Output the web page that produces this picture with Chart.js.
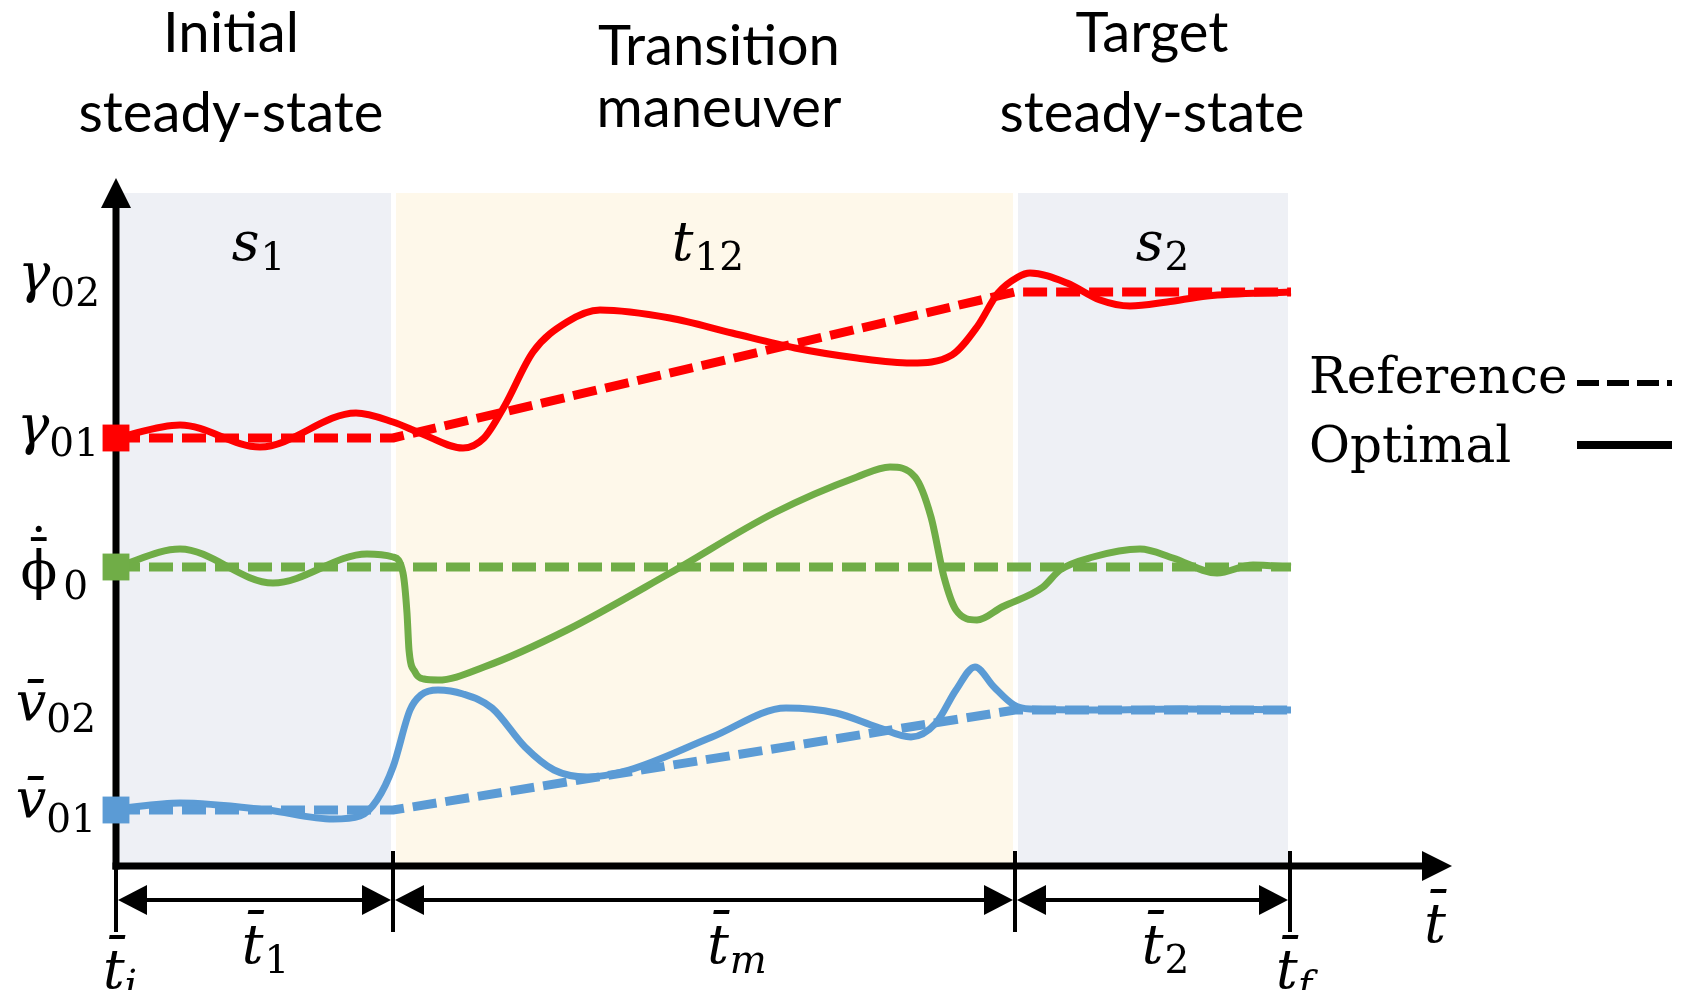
<!DOCTYPE html>
<html>
<head>
<meta charset="utf-8">
<script src="https://cdn.jsdelivr.net/npm/chart.js@4.4.1/dist/chart.umd.min.js"></script>
<style>
  html, body { margin: 0; padding: 0; background: #ffffff; }
  #wrap { width: 1683px; height: 990px; position: relative; }
</style>
</head>
<body>
<div id="wrap"><canvas id="c" width="1683" height="990"></canvas></div>
<script>
// ---- phases on the normalised time axis t̄ ----
const phaseBounds  = [0, 2.77, 8.99, 11.74];
const phaseSymbols = [['s', '1'], ['t', '12'], ['s', '2']];
const phaseTitles  = [['Initial', 'steady-state'], ['Transition', 'maneuver'], ['Target', 'steady-state']];

// ---- characteristic levels on the vertical axis ----
const levelValues  = [57.4, 42.8, 29.9, 15.6, 5.6];
const levelSymbols = [['γ', '02'], ['γ', '01'], ['ϕ', '0'], ['v\u0304', '02'], ['v\u0304', '01']];

// ---- time marks under the axis ----
const timeTicks      = [0, 2.77, 8.99, 11.74];
const timeTickLabels = [['t\u0304', 'i'], ['t\u0304', 'f']];
const spanLabels     = [['t\u0304', '1'], ['t\u0304', 'm'], ['t\u0304', '2']];
const axisLabel      = 't\u0304';

const legendLabels = ['Reference', 'Optimal'];

// ---- reference trajectories (piecewise linear) ----
const gammaReference = [[0, 42.8], [2.77, 42.8], [8.99, 57.4], [11.75, 57.4]];
const phiReference   = [[0, 29.9], [2.77, 29.9], [8.99, 29.9], [11.75, 29.9]];
const vReference     = [[0, 5.6], [2.77, 5.6], [8.99, 15.6], [11.75, 15.6]];

// ---- optimal trajectories ----
const gammaOptimal = [
  [0, 42.8], [0.64, 44.1], [1.44, 41.9], [2.40, 45.3], [2.77, 44.4], [3.04, 43.3],
  [3.47, 41.8], [3.68, 42.8], [3.88, 45.9], [4.17, 51.4], [4.51, 54.4], [4.84, 55.6],
  [5.54, 54.8], [6.16, 53.3], [6.79, 51.8], [7.41, 50.8], [7.95, 50.3], [8.36, 51.1],
  [8.61, 53.9], [8.82, 57.3], [9.02, 58.9], [9.14, 59.3], [9.51, 58.3], [9.84, 56.6],
  [10.14, 56.0], [10.51, 56.4], [10.91, 57.0], [11.75, 57.4]
];
const phiOptimal = [
  [0, 29.9], [0.64, 31.7], [1.57, 28.3], [2.51, 31.2], [2.77, 30.9], [2.87, 29.3],
  [2.91, 25.3], [2.93, 21.6], [2.99, 19.4], [3.08, 18.7], [3.22, 18.6], [3.68, 19.9],
  [4.51, 23.6], [5.54, 29.3], [6.58, 35.3], [7.41, 38.9], [7.74, 39.9], [7.99, 38.9],
  [8.15, 34.9], [8.28, 28.9], [8.40, 25.6], [8.61, 24.6], [8.86, 25.9], [9.27, 27.9],
  [9.44, 29.6], [9.77, 30.9], [10.24, 31.7], [10.57, 30.8], [11.01, 29.3], [11.37, 30.1],
  [11.75, 29.9]
];
const vOptimal = [
  [0, 5.7], [0.64, 6.3], [1.51, 5.6], [2.17, 4.7], [2.44, 5.0], [2.61, 6.6],
  [2.77, 9.9], [2.94, 15.6], [3.05, 17.1], [3.22, 17.6], [3.47, 17.2], [3.76, 15.8],
  [4.09, 11.9], [4.38, 9.6], [4.71, 8.9], [5.13, 9.6], [5.96, 12.9], [6.70, 15.8],
  [7.20, 15.3], [7.61, 13.9], [7.95, 12.9], [8.20, 14.3], [8.40, 17.6], [8.59, 19.9],
  [8.78, 17.9], [8.98, 16.1], [9.14, 15.7], [9.84, 15.6], [10.64, 15.7], [11.75, 15.6]
];

const T_MAX = 13.36, Y_MAX = 68.6, REGION_TOP = 67.3;

const RED = '#FF0000', GREEN = '#70AD47', BLUE = '#5B9BD5';
const phaseFill = ['#EEF0F5', '#FEF8EA', '#EEF0F5'];

const MATH = 'italic 54px "DejaVu Serif"';
const MATH_UP = '54px "DejaVu Serif"';
const SUB = '39px "DejaVu Serif"';
const SUB_IT = 'italic 39px "DejaVu Serif"';

const pts = arr => arr.map(([x, y]) => ({ x, y }));

function referenceSet(data, color) {
  return {
    data: pts(data), borderColor: color, backgroundColor: color,
    borderWidth: 9, borderDash: [24, 9], tension: 0, order: 0, clip: false,
    pointStyle: 'rect', pointBorderWidth: 0,
    pointRadius: c => (c.dataIndex === 0 ? 19 : 0),
    pointHoverRadius: 0
  };
}
function optimalSet(data, color) {
  return {
    data: pts(data), borderColor: color, borderWidth: 7,
    cubicInterpolationMode: 'monotone', pointRadius: 0, order: 1
  };
}

function arrowHead(ctx, tipX, tipY, dx, dy, len, half) {
  const bx = tipX - dx * len, by = tipY - dy * len;
  ctx.beginPath();
  ctx.moveTo(tipX, tipY);
  ctx.lineTo(bx - dy * half, by + dx * half);
  ctx.lineTo(bx + dy * half, by - dx * half);
  ctx.closePath();
  ctx.fill();
}

// base symbol with a lowered subscript; returns the x-extent of the base glyph
function mathLabel(ctx, base, sub, x, y, o) {
  const bf = o.baseFont || MATH;
  const sf = o.subFont || (/^[0-9]+$/.test(sub) ? SUB : SUB_IT);
  ctx.font = bf; const bw = ctx.measureText(base).width;
  ctx.font = sf; const sw = sub ? ctx.measureText(sub).width : 0;
  const gap = o.gap || 0;
  const total = bw + (sub ? gap + sw : 0);
  const left = o.align === 'center' ? x - total / 2 : o.align === 'right' ? x - total : x;
  ctx.textAlign = 'left';
  ctx.textBaseline = 'alphabetic';
  ctx.font = bf; ctx.fillText(base, left, y);
  if (sub) { ctx.font = sf; ctx.fillText(sub, left + bw + gap, y + (o.drop || 0)); }
  return { left, width: bw };
}

// draw a single accent glyph with its ink centred on (cx, cy)
function accentAt(ctx, ch, cx, cy, font) {
  ctx.font = font;
  ctx.textAlign = 'left';
  ctx.textBaseline = 'alphabetic';
  const m = ctx.measureText(ch);
  const inkW = m.actualBoundingBoxRight + m.actualBoundingBoxLeft;
  const inkH = m.actualBoundingBoxAscent + m.actualBoundingBoxDescent;
  const x = cx - inkW / 2 + m.actualBoundingBoxLeft;
  const y = cy - inkH / 2 + m.actualBoundingBoxAscent;
  ctx.fillText(ch, x, y);
}

const diagramPlugin = {
  id: 'diagram',
  beforeDatasetsDraw(chart) {
    const ctx = chart.ctx, X = chart.scales.x, Y = chart.scales.y;
    const px = v => X.getPixelForValue(v), py = v => Y.getPixelForValue(v);
    ctx.save();
    // phase backgrounds
    for (let i = 0; i < 3; i++) {
      const x0 = px(phaseBounds[i]) + 3;
      const x1 = px(phaseBounds[i + 1]) - 2;
      ctx.fillStyle = phaseFill[i];
      ctx.fillRect(x0, py(REGION_TOP), x1 - x0, py(0) - py(REGION_TOP));
    }
    // axes
    ctx.strokeStyle = '#000'; ctx.fillStyle = '#000'; ctx.lineWidth = 7; ctx.lineCap = 'butt';
    const ox = px(0), oy = py(0);
    ctx.beginPath(); ctx.moveTo(ox, oy + 3.5); ctx.lineTo(ox, py(Y_MAX) + 20); ctx.stroke();
    arrowHead(ctx, ox, py(Y_MAX) - 2, 0, -1, 30, 15);
    ctx.beginPath(); ctx.moveTo(ox - 3.5, oy); ctx.lineTo(px(T_MAX) - 20, oy); ctx.stroke();
    arrowHead(ctx, px(T_MAX), oy, 1, 0, 30, 15);
    ctx.restore();
  },
  afterDatasetsDraw(chart) {
    const ctx = chart.ctx, X = chart.scales.x, Y = chart.scales.y;
    const px = v => X.getPixelForValue(v), py = v => Y.getPixelForValue(v);
    ctx.save();
    ctx.fillStyle = '#000'; ctx.strokeStyle = '#000';

    // time ticks under the axis
    ctx.lineWidth = 4;
    timeTicks.forEach((t, i) => {
      const x = px(t);
      const top = i === 0 ? py(0) : py(0) - 15;
      ctx.beginPath(); ctx.moveTo(x, top); ctx.lineTo(x, py(0) + 66); ctx.stroke();
    });
    // span arrows between ticks
    const ay = py(0) + 34;
    const spanShift = [11, 33, 13];
    for (let i = 0; i < timeTicks.length - 1; i++) {
      const a = px(timeTicks[i]) + 2, b = px(timeTicks[i + 1]) - 2;
      ctx.lineWidth = 4;
      ctx.beginPath(); ctx.moveTo(a + 20, ay); ctx.lineTo(b - 20, ay); ctx.stroke();
      arrowHead(ctx, a, ay, -1, 0, 29, 15);
      arrowHead(ctx, b, ay, 1, 0, 29, 15);
      const mid = (px(timeTicks[i]) + px(timeTicks[i + 1])) / 2 + spanShift[i];
      mathLabel(ctx, spanLabels[i][0], spanLabels[i][1], mid, py(0) + 97, { align: 'center', drop: 10, gap: 1 });
    }
    mathLabel(ctx, timeTickLabels[0][0], timeTickLabels[0][1], px(timeTicks[0]) + 4, py(0) + 122, { align: 'center', drop: 10 });
    mathLabel(ctx, timeTickLabels[1][0], timeTickLabels[1][1], px(timeTicks[3]) + 4, py(0) + 122, { align: 'center', drop: 10 });
    mathLabel(ctx, axisLabel, '', px(T_MAX) - 17, py(0) + 76, { align: 'center' });

    // level labels on the vertical axis
    const levelRight = [100, 99, 88, 96, 96];
    const levelDrop = [[0, 14], [6, 12], [22, 10], [10, 12], [7, 15]];
    levelValues.forEach((v, i) => {
      const isPhi = i === 2;
      const base = py(v) + levelDrop[i][0];
      const r = mathLabel(ctx, levelSymbols[i][0], levelSymbols[i][1], levelRight[i], base,
        { align: 'right', drop: levelDrop[i][1], baseFont: isPhi ? MATH_UP : MATH, gap: isPhi ? 6 : 0 });
      if (isPhi) {
        // mean bar with the time-derivative dot above it
        const cx = r.left + r.width / 2;
        accentAt(ctx, '\u00AF', cx, base - 50, MATH_UP);
        accentAt(ctx, '\u02D9', cx, base - 61, MATH_UP);
      }
    });

    // phase symbols
    const symShift = [4, 4, 10];
    for (let i = 0; i < 3; i++) {
      const mid = (px(phaseBounds[i]) + px(phaseBounds[i + 1])) / 2 + symShift[i];
      mathLabel(ctx, phaseSymbols[i][0], phaseSymbols[i][1], mid, py(REGION_TOP) + 67, { align: 'center', drop: 10, gap: 1 });
    }

    // phase titles
    ctx.font = '100px Lato';
    const fs = 100 * 305 / ctx.measureText('steady-state').width;
    ctx.font = fs.toFixed(1) + 'px Lato';
    ctx.textAlign = 'center'; ctx.textBaseline = 'alphabetic';
    const titleX = [231, 719, 1152];
    const titleY = [[52, 132], [65, 127], [52, 132]];
    phaseTitles.forEach((lines, i) => {
      lines.forEach((s, j) => ctx.fillText(s, titleX[i], titleY[i][j]));
    });

    // legend
    ctx.font = '50px "DejaVu Serif"';
    ctx.textAlign = 'left';
    ctx.fillText(legendLabels[0], 1309, 393);
    ctx.fillText(legendLabels[1], 1309, 462);
    ctx.lineWidth = 6; ctx.setLineDash([22, 8]);
    ctx.beginPath(); ctx.moveTo(1577, 383); ctx.lineTo(1672, 383); ctx.stroke();
    ctx.setLineDash([]); ctx.lineWidth = 8;
    ctx.beginPath(); ctx.moveTo(1577, 445); ctx.lineTo(1672, 445); ctx.stroke();
    ctx.restore();
  }
};

new Chart(document.getElementById('c'), {
  type: 'line',
  data: {
    datasets: [
      referenceSet(gammaReference, RED),
      referenceSet(phiReference, GREEN),
      referenceSet(vReference, BLUE),
      optimalSet(gammaOptimal, RED),
      optimalSet(phiOptimal, GREEN),
      optimalSet(vOptimal, BLUE)
    ]
  },
  options: {
    responsive: false,
    animation: false,
    layout: { padding: { left: 116, right: 231, top: 180, bottom: 124 } },
    scales: {
      x: { type: 'linear', min: 0, max: T_MAX, display: false },
      y: { type: 'linear', min: 0, max: Y_MAX, display: false }
    },
    plugins: { legend: { display: false }, tooltip: { enabled: false } },
    elements: { line: { borderCapStyle: 'butt', borderJoinStyle: 'round' } }
  },
  plugins: [diagramPlugin]
});
</script>
</body>
</html>
